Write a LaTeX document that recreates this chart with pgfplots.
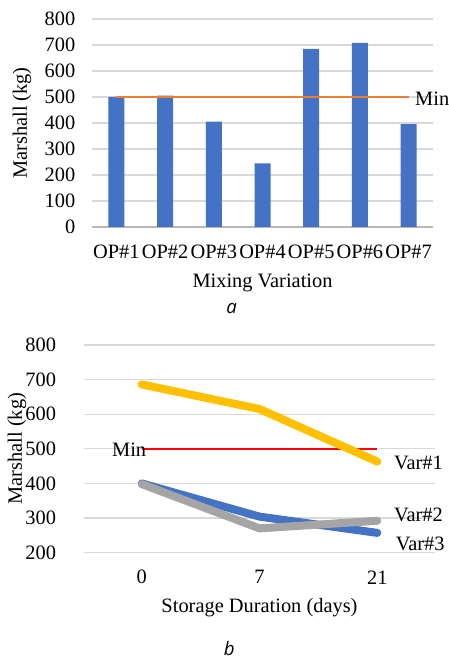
\documentclass[border=0pt]{standalone}
\usepackage{pgfplots}
\pgfplotsset{compat=1.18}
\usepackage{fontspec}
\setmainfont{Liberation Serif}
\newfontfamily\capfont{Open Sans}
\definecolor{xlblue}{HTML}{4472C4}
\definecolor{xlorange}{HTML}{ED7D31}
\definecolor{xlyellow}{HTML}{FFC000}
\definecolor{xlgray}{HTML}{A5A5A5}
\definecolor{gridgray}{HTML}{D9D9D9}
\pgfplotsset{
  mystyle/.style={
    scale only axis,
    font=\fontsize{15.3}{18}\selectfont,
    /pgf/number format/assume math mode=true,
    axis line style={draw=none},
    major tick length=0pt,
    tick style={draw=none},
    ymajorgrids,
    grid style={gridgray, line width=0.9pt},
    clip=false,
    yticklabel style={anchor=east, xshift=-9pt},
    xticklabel style={anchor=center, yshift=-18.5pt},
  }
}
\begin{document}
\begin{tikzpicture}
\useasboundingbox (0,0) rectangle (336.75pt,495pt);
% ---- chart a ----
\begin{axis}[mystyle,
  at={(69pt,324.75pt)}, anchor=south west,
  width=255.75pt, height=156pt,
  xmin=-0.5, xmax=6.5, ymin=0, ymax=800,
  ytick={0,100,...,800},
  xtick={0,...,6},
  xticklabels={OP\#1,OP\#2,OP\#3,OP\#4,OP\#5,OP\#6,OP\#7},
  ylabel={Marshall (kg)},
  xlabel={Mixing Variation},
  every axis y label/.style={at={(axis description cs:-0.205,0.5)}, rotate=90, anchor=center},
  every axis x label/.style={at={(axis description cs:0.5,-0.268)}, anchor=center},
]
\draw[color=gridgray!85!black, line width=1.3pt] (axis cs:-0.5,0) -- (axis cs:6.5,0);
\addplot[ybar, bar width=12pt, fill=xlblue, draw=none] coordinates {
  (0,500) (1,505) (2,405) (3,245) (4,685) (5,708) (6,396)};
\addplot[xlorange, line width=1.9pt] coordinates {(0,500) (6,500)};
\node[anchor=west, inner sep=0pt] at (axis cs:6.13,492) {Min};
\end{axis}
\node[anchor=base, inner sep=0pt] at (173.8pt,260pt) {\capfont\itshape\fontsize{14}{16}\selectfont a};
% ---- chart b ----
\begin{axis}[mystyle,
  at={(63pt,80.55pt)}, anchor=south west,
  width=263.25pt, height=155.7pt,
  xmin=-0.49, xmax=2.49, ymin=200, ymax=800,
  ytick={200,300,...,800},
  xtick={0,1,2},
  xticklabels={0,7,21},
  ylabel={Marshall (kg)},
  xlabel={Storage Duration (days)},
  yticklabel style={anchor=east, xshift=-8.5pt},
  every axis y label/.style={at={(axis description cs:-0.191,0.5)}, rotate=90, anchor=center},
  every axis x label/.style={at={(axis description cs:0.5,-0.264)}, anchor=center},
]
\addplot[red, line width=1.1pt] coordinates {(0,500) (2,500)};
\addplot[xlyellow, line width=6pt, line cap=round, line join=round] coordinates {(0,686) (1,615) (2,463)};
\addplot[xlblue, line width=6pt, line cap=round, line join=round] coordinates {(0,400) (1,304) (2,257)};
\addplot[xlgray, line width=6pt, line cap=round, line join=round] coordinates {(0,398) (1,270) (2,292)};
\node[anchor=east, inner sep=0pt] at (axis cs:0.04,497) {Min};
\node[anchor=west, inner sep=0pt] at (axis cs:2.14,459) {Var\#1};
\node[anchor=west, inner sep=0pt] at (axis cs:2.14,309) {Var\#2};
\node[anchor=west, inner sep=0pt] at (axis cs:2.155,225) {Var\#3};
\end{axis}
\node[anchor=base, inner sep=0pt] at (172pt,3pt) {\capfont\itshape\fontsize{14}{16}\selectfont b};
\end{tikzpicture}
\end{document}
